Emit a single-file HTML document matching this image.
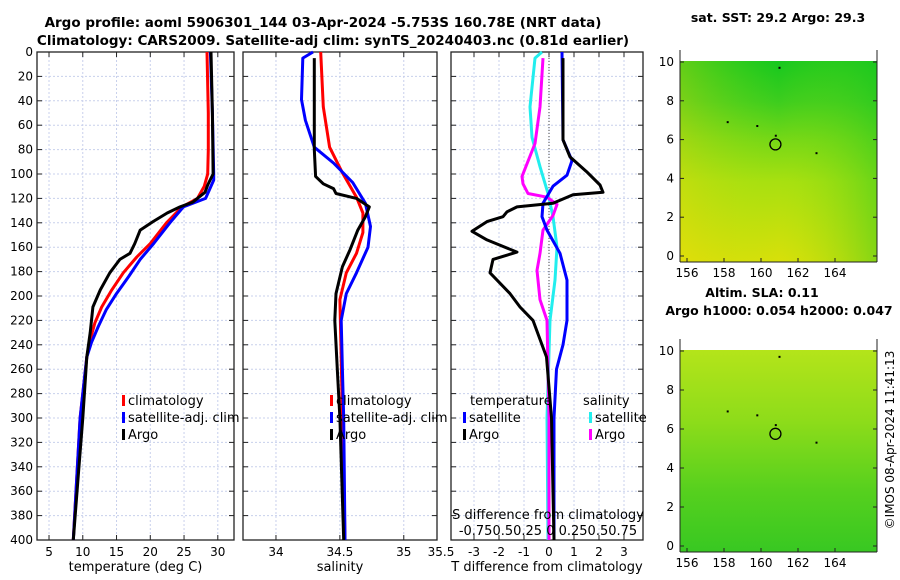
<!DOCTYPE html>
<html><head><meta charset="utf-8"><style>
html,body{margin:0;padding:0;background:#fff;}
svg{display:block;font-family:"Liberation Sans",sans-serif;}
text{font-family:"DejaVu Sans","Liberation Sans",sans-serif;}
</style></head><body>
<svg id="chart" width="900" height="580" viewBox="0 0 900 580" xmlns="http://www.w3.org/2000/svg">
<defs>
<linearGradient id="sstV" x1="0" y1="0" x2="0" y2="1">
<stop offset="0" stop-color="#16c81e"/><stop offset="0.2" stop-color="#3ccd1e"/><stop offset="0.4" stop-color="#78d816"/><stop offset="0.6" stop-color="#a8e010"/><stop offset="1" stop-color="#d8e00a"/>
</linearGradient>
<linearGradient id="sstH" x1="0" y1="0" x2="1" y2="0">
<stop offset="0" stop-color="#f0d80a" stop-opacity="0.35"/><stop offset="0.5" stop-color="#a0e010" stop-opacity="0"/><stop offset="1" stop-color="#20c820" stop-opacity="0.45"/>
</linearGradient>
<linearGradient id="slaV" x1="0" y1="0" x2="0" y2="1">
<stop offset="0" stop-color="#b4e41a"/><stop offset="0.35" stop-color="#8edc1a"/><stop offset="0.7" stop-color="#56d01e"/><stop offset="1" stop-color="#38c822"/>
</linearGradient>
</defs>
<g id="root"></g>
</svg>
<script>
// ---- data ----
const tClimDepth=[0,50,80,100,110,120,127,140,157,168,181,195,209,222,236,250,300,350,400];
const tClimVal=[28.4,28.6,28.6,28.5,28.0,27.0,24.7,22.4,20.0,18.0,16.0,14.3,12.8,11.8,11.1,10.6,9.6,9.1,8.6];
const tSatDepth=[0,50,100,105,120,127,140,157,170,184,198,211,225,238,250,300,350,400];
const tSatVal=[28.9,29.2,29.4,29.4,28.2,24.9,22.9,20.5,18.5,16.8,15.0,13.5,12.3,11.3,10.6,9.6,9.1,8.6];
const tArgoDepth=[0,50,100,109,115,123,127,132,139,146,157,165,170,181,195,209,230,250,300,350,400];
const tArgoVal=[29.0,29.2,29.3,28.5,28.1,26.3,24.4,22.5,20.4,18.5,17.7,17.0,15.5,14.0,12.6,11.5,11.1,10.6,10.0,9.3,8.6];
const sClimDepth=[0,45,78,99,119,132,148,165,181,203,250,300,400];
const sClimVal=[34.35,34.37,34.42,34.52,34.63,34.68,34.68,34.63,34.55,34.50,34.51,34.52,34.54];
const sSatDepth=[0,5,39,56,78,91,107,124,143,160,181,198,220,260,300,400];
const sSatVal=[34.29,34.21,34.20,34.23,34.30,34.45,34.60,34.70,34.74,34.72,34.63,34.55,34.51,34.52,34.53,34.54];
const sArgoDepth=[5,80,102,108,112,116,120,127,135,146,162,176,198,220,260,300,400];
const sArgoVal=[34.30,34.30,34.31,34.37,34.45,34.47,34.63,34.73,34.70,34.64,34.58,34.52,34.47,34.46,34.48,34.50,34.53];
const dTSatDepth=[0,72,89,101,110,124,135,146,165,187,220,240,260,300,400];
const dTSatVal=[0.52,0.56,0.92,0.72,0.16,-0.24,-0.28,-0.08,0.44,0.72,0.72,0.56,0.30,0.20,0.20];
const dTArgoDepth=[5,72,86,98,109,115,117,124,127,131,135,139,147,154,164,170,181,198,209,220,250,300,400];
const dTArgoVal=[0.56,0.56,0.84,1.5,2.04,2.16,0.96,0.16,-1.28,-1.68,-1.84,-2.48,-3.08,-2.48,-1.28,-2.24,-2.36,-1.56,-1.16,-0.64,-0.1,0.1,0.2];
const dSSatDepth=[0,5,45,70,94,116,135,160,187,220,300,400];
const dSSatVal=[-0.07,-0.14,-0.19,-0.17,-0.09,-0.01,0.04,0.08,0.06,0.01,-0.02,-0.01];
const dSArgoDepth=[5,45,75,102,108,116,119,125,134,146,165,179,203,220,300,400];
const dSArgoVal=[-0.06,-0.09,-0.14,-0.27,-0.26,-0.21,-0.02,0.08,0.04,-0.06,-0.09,-0.12,-0.09,-0.02,0.0,0.0];
const depthTicks=[0,20,40,60,80,100,120,140,160,180,200,220,240,260,280,300,320,340,360,380,400];
const tTicks=[5,10,15,20,25,30];
const sTicks=[34,34.5,35];
const dTicks=[-3,-2,-1,0,1,2,3];
const latTicks=[0,2,4,6,8,10];
const lonTicks=[156,158,160,162,164];
const argoLon=160.78, argoLat=5.753;

// ---- helpers ----
const NS="http://www.w3.org/2000/svg";
const root=document.getElementById('root');
function el(tag,attrs,parent){const e=document.createElementNS(NS,tag);for(const k in attrs)e.setAttribute(k,attrs[k]);(parent||root).appendChild(e);return e;}
function txt(x,y,s,size,anchor,weight,parent){const t=el('text',{x:x,y:y,'font-size':size,'text-anchor':anchor||'middle','font-weight':weight||'normal',fill:'#000'},parent);t.textContent=s;return t;}
const Y0=52,Y1=540;
const yD=d=>Y0+(Y1-Y0)*d/400;

const panels=[
 {name:'temperature-panel',x0:37,x1:234,v0:3.22,v1:32.4,ticks:tTicks,fmt:v=>String(v),label:'temperature (deg C)'},
 {name:'salinity-panel',x0:243,x1:437,v0:33.742,v1:35.26,ticks:sTicks,fmt:v=>String(v),label:'salinity'},
 {name:'difference-panel',x0:451,x1:643,v0:-3.92,v1:3.76,ticks:dTicks,fmt:v=>String(v),label:'T difference from climatology'}
];
panels.forEach(p=>{p.sx=v=>p.x0+(p.x1-p.x0)*(v-p.v0)/(p.v1-p.v0);});

panels.forEach((p,i)=>{
 const g=el('g',{});
 
 
 depthTicks.forEach(d=>{if(d>0&&d<400)el('line',{x1:p.x0,x2:p.x1,y1:yD(d),y2:yD(d),stroke:'#c8d0ec','stroke-width':1,'stroke-dasharray':'2,2'},g);});
 p.ticks.forEach(v=>{const x=p.sx(v);if(x>p.x0&&x<p.x1)el('line',{x1:x,x2:x,y1:Y0,y2:Y1,stroke:'#c8d0ec','stroke-width':1,'stroke-dasharray':'2,2'},g);});
 el('rect',{x:p.x0,y:Y0,width:p.x1-p.x0,height:Y1-Y0,fill:'none',stroke:'#222','stroke-width':1.3},g);
 depthTicks.forEach(d=>{el('line',{x1:p.x0,x2:p.x0+5,y1:yD(d),y2:yD(d),stroke:'#222'},g);el('line',{x1:p.x1-5,x2:p.x1,y1:yD(d),y2:yD(d),stroke:'#222'},g);
   if(i===0){const t=txt(p.x0-4,yD(d)+4,String(d),12,'end',null,g);}});
 p.ticks.forEach(v=>{const x=p.sx(v);el('line',{x1:x,x2:x,y1:Y1-5,y2:Y1,stroke:'#222'},g);el('line',{x1:x,x2:x,y1:Y0,y2:Y0+5,stroke:'#222'},g);
   const t=txt(x,556,p.fmt(v),12,'middle',null,g);});
 const lab=txt((p.x0+p.x1)/2,571,p.label,13,'middle',null,g);
 
 
});
txt(441,556,'35.5',12,'middle');

function line(p,depths,vals,color,name,sc){
 const pts=depths.map((d,i)=>p.sx(vals[i]*(sc||1)).toFixed(1)+','+yD(d).toFixed(1)).join(' ');
 const l=el('polyline',{points:pts,fill:'none',stroke:color,'stroke-width':3,'stroke-linejoin':'round'});
 
 
}
const [P1,P2,P3]=panels;
line(P1,tClimDepth,tClimVal,'#f00','temperature-climatology-line');
line(P1,tSatDepth,tSatVal,'#00f','temperature-satellite-line');
line(P1,tArgoDepth,tArgoVal,'#000','temperature-argo-line');
line(P2,sClimDepth,sClimVal,'#f00','salinity-climatology-line');
line(P2,sSatDepth,sSatVal,'#00f','salinity-satellite-line');
line(P2,sArgoDepth,sArgoVal,'#000','salinity-argo-line');
const zl=el('line',{x1:P3.sx(0),x2:P3.sx(0),y1:Y0,y2:Y1,stroke:'#444','stroke-dasharray':'1,2'});


line(P3,dSSatDepth,dSSatVal,'#2ee','salinity-diff-satellite-line',4);
line(P3,dSArgoDepth,dSArgoVal,'#f0f','salinity-diff-argo-line',4);
line(P3,dTSatDepth,dTSatVal,'#00f','temperature-diff-satellite-line');
line(P3,dTArgoDepth,dTArgoVal,'#000','temperature-diff-argo-line');

// S axis labels inside panel 3
txt(548,519,'S difference from climatology',13,'middle');
txt(548,535,'-0.750.50.25 0  0.250.50.75',13,'middle');

// legends
function legend(x,y,color,label,name){const g=el('g',{});
 el('rect',{x:x,y:y-10,width:3,height:11,fill:color},g);txt(x+6,y,label,13,'start',null,g);}
legend(122,405,'#f00','climatology','legend-climatology');
legend(122,422,'#00f','satellite-adj. clim','legend-satellite-adj-clim');
legend(122,439,'#000','Argo','legend-argo');
legend(330,405,'#f00','climatology','legend-climatology-salinity');
legend(330,422,'#00f','satellite-adj. clim','legend-satellite-salinity');
legend(330,439,'#000','Argo','legend-argo-salinity');
txt(470,405,'temperature',13,'start');
txt(583,405,'salinity',13,'start');
legend(463,422,'#00f','satellite','legend-t-satellite');
legend(463,439,'#000','Argo','legend-t-argo');
legend(589,422,'#2ee','satellite','legend-s-satellite');
legend(589,439,'#f0f','Argo','legend-s-argo');

// titles
const t1=txt(323,27,'Argo profile: aoml 5906301_144 03-Apr-2024 -5.753S 160.78E (NRT data)',13.5,'middle','bold');


const t2=txt(333,45,'Climatology: CARS2009. Satellite-adj clim: synTS_20240403.nc (0.81d earlier)',13.5,'middle','bold');



// maps
function map(top,bot,grad,name,title){
 const x0=680,x1=877;
 const lx=v=>687+(v-156)*18.5;
 const ly=v=>bot-6-(bot-6-top)*v/10;
 const g=el('g',{});
 
 
 el('rect',{x:x0,y:top-1,width:x1-x0,height:bot-top+1,fill:'url(#'+grad+')'},g);
 if(grad==='sstV')el('rect',{x:x0,y:top-1,width:x1-x0,height:bot-top+1,fill:'url(#sstH)'},g);
 el('line',{x1:x0,x2:x0,y1:top-12,y2:bot,stroke:'#222'},g);
 el('line',{x1:x1,x2:x1,y1:top-12,y2:bot,stroke:'#222'},g);
 el('line',{x1:x0,x2:x1,y1:bot,y2:bot,stroke:'#222'},g);
 latTicks.forEach(v=>{el('line',{x1:x0,x2:x0+4,y1:ly(v),y2:ly(v),stroke:'#222'},g);el('line',{x1:x1-4,x2:x1,y1:ly(v),y2:ly(v),stroke:'#222'},g);txt(x0-6,ly(v)+4,String(v),12,'end',null,g);});
 lonTicks.forEach(v=>{el('line',{x1:lx(v),x2:lx(v),y1:bot-4,y2:bot,stroke:'#222'},g);txt(lx(v),bot+15,String(v),12,'middle',null,g);});
 const c=el('circle',{cx:lx(argoLon),cy:ly(argoLat),r:5.5,fill:'none',stroke:'#000','stroke-width':1.3},g);
 
 
 [[158.2,6.9],[160.8,6.2],[163.0,5.3],[161,9.7],[159.8,6.7]].forEach(p=>el('rect',{x:lx(p[0])-1,y:ly(p[1])-1,width:2,height:2,fill:'#000'},g));
 if(title)txt(778,top-40,title,12.5,'middle','bold');
}
map(62,262,'sstV','sst-map','sat. SST: 29.2 Argo: 29.3');
map(351,552,'slaV','sla-map','');
txt(762,297,'Altim. SLA: 0.11',12.5,'middle','bold');
txt(779,315,'Argo h1000: 0.054 h2000: 0.047',12.5,'middle','bold');
const cr=txt(0,0,'©IMOS 08-Apr-2024 11:41:13',12,'middle');
cr.setAttribute('transform','translate(894,440) rotate(-90)');


</script>
</body></html>
